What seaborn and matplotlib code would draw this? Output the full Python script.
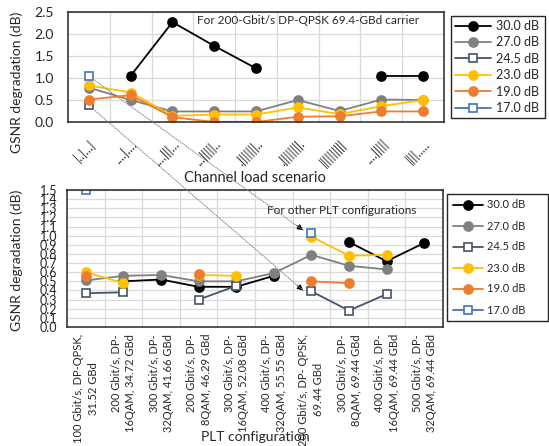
import numpy as np
import pandas as pd
import matplotlib
matplotlib.use("Agg")
import matplotlib.pyplot as plt
import seaborn as sns
from matplotlib.lines import Line2D
from matplotlib.patches import ConnectionPatch

nan = np.nan

# ---------------- data ----------------
series_labels = ["30.0 dB", "27.0 dB", "24.5 dB", "23.0 dB", "19.0 dB", "17.0 dB"]

top_scenarios = ["|..|...|", "....|....", "....|||...", "...|||||..", ".|||||||..",
                 ".||||||||.", "||||||||||", "....|||||", "||||....."]
top_30 = [nan, 1.05, 2.27, 1.73, 1.22, nan, nan, 1.05, 1.05]
top_27 = [0.78, 0.50, 0.24, 0.24, 0.24, 0.50, 0.25, 0.51, 0.50]
top_245 = [0.38, nan, nan, nan, nan, nan, nan, nan, nan]
top_23 = [0.83, 0.67, 0.14, 0.17, 0.17, 0.33, 0.18, 0.36, 0.50]
top_19 = [0.51, 0.61, 0.11, 0.00, 0.00, 0.12, 0.13, 0.24, 0.24]
top_17 = [1.04, nan, nan, nan, nan, nan, nan, nan, nan]

plt_configs = ["100 Gbit/s, DP-QPSK,\n31.52 GBd", "200 Gbit/s, DP-\n16QAM, 34.72 GBd",
               "300 Gbit/s, DP-\n32QAM, 41.66 GBd", "200 Gbit/s, DP-\n8QAM, 46.29 GBd",
               "300 Gbit/s, DP-\n16QAM, 52.08 GBd", "400 Gbit/s, DP-\n32QAM, 55.55 GBd",
               "200 Gbit/s, DP- QPSK,\n69.44 GBd", "300 Gbit/s, DP-\n8QAM, 69.44 GBd",
               "400 Gbit/s, DP-\n16QAM, 69.44 GBd", "500 Gbit/s, DP-\n32QAM, 69.44 GBd"]
bot_30 = [nan, 0.50, 0.52, 0.44, 0.44, 0.56, nan, 0.93, 0.72, 0.92]
bot_27 = [0.51, 0.56, 0.57, 0.50, 0.50, 0.59, 0.79, 0.67, 0.63, nan]
bot_245 = [0.37, 0.38, nan, 0.30, 0.45, nan, 0.39, 0.18, 0.36, nan]
bot_23 = [0.60, 0.48, nan, 0.57, 0.56, nan, 0.99, 0.78, 0.79, nan]
bot_19 = [0.56, nan, nan, 0.58, nan, nan, 0.50, 0.48, nan, nan]
bot_17 = [1.50, nan, nan, nan, nan, nan, 1.03, nan, nan, nan]

top_yticks = [0.0, 0.5, 1.0, 1.5, 2.0, 2.5]
bot_yticks = [round(0.1 * i, 1) for i in range(16)]

# ---------------- style ----------------
sns.set_theme(style="white")
plt.rcParams["font.family"] = ["Lato", "DejaVu Sans"]

colors = ["#000000", "#808080", "#44546A", "#FFC000", "#ED7D31", "#4472C4"]
markers = ["o", "o", "s", "o", "o", "s"]
grid_c = "#D9D9D9"

W, H = 549, 446
fig = plt.figure(figsize=(W / 100, H / 100), dpi=100)


def px_axes(l, t, r, b):
    return fig.add_axes([l / W, 1 - b / H, (r - l) / W, (b - t) / H])


ax1 = px_axes(68, 12, 444, 122)
ax2 = px_axes(67, 190, 443, 327)


def draw(ax, series):
    for vals, c, m in zip(series, colors, markers):
        arr = np.array(vals, float)
        x = np.arange(len(arr))
        ok = ~np.isnan(arr)
        seg = np.cumsum(~ok)
        df = pd.DataFrame({"x": x[ok], "y": arr[ok], "seg": seg[ok]})
        for _, d in df.groupby("seg"):
            sns.lineplot(data=d, x="x", y="y", ax=ax, color=c, marker=m,
                         markersize=6.5 if m == "o" else 6,
                         markerfacecolor="white" if m == "s" else c,
                         markeredgecolor=c, markeredgewidth=1.2,
                         linewidth=1.3, legend=False, estimator=None, sort=False)


def style_axes(ax, n, yticks, ylim):
    ax.set_xlim(-0.5, n - 0.5)
    ax.set_ylim(*ylim)
    ax.set_xticks(range(n))
    ax.set_xticks(np.arange(n - 1) + 0.5, minor=True)
    ax.set_yticks(yticks)
    ax.grid(True, which="minor", axis="x", color=grid_c, lw=0.9)
    ax.grid(True, which="major", axis="y", color=grid_c, lw=0.9)
    ax.grid(False, which="major", axis="x")
    ax.set_axisbelow(True)
    for s in ax.spines.values():
        s.set_visible(True)
        s.set_color("#262626")
        s.set_linewidth(1.1)
    ax.tick_params(which="both", length=0)
    ax.set_xlabel("")
    ax.set_ylabel("")


draw(ax1, [top_30, top_27, top_245, top_23, top_19, top_17])
style_axes(ax1, len(top_scenarios), top_yticks, (0, 2.5))
ax1.set_yticklabels([f"{v:.1f}" for v in top_yticks], fontsize=10)
ax1.tick_params(axis="y", pad=10)
ax1.set_xticklabels(top_scenarios, rotation=45, ha="right", rotation_mode="anchor",
                    fontsize=9)
ax1.tick_params(axis="x", pad=11)

draw(ax2, [bot_30, bot_27, bot_245, bot_23, bot_19, bot_17])
style_axes(ax2, len(plt_configs), bot_yticks, (0, 1.5))
ax2.set_yticklabels([f"{v:.1f}" for v in bot_yticks], fontsize=9)
ax2.tick_params(axis="y", pad=7)
ax2.set_xticklabels(plt_configs, rotation=90, ha="center", va="top", fontsize=8,
                    linespacing=1.45)
for i, t in enumerate(ax2.get_xticklabels()):
    t.set_multialignment("center" if i in (0, 6) else "right")
ax2.tick_params(axis="x", pad=5)

# axis titles
fig.text(17 / W, 1 - 82 / H, "GSNR degradation (dB)", rotation=90, ha="center",
         va="center", fontsize=10)
fig.text(17 / W, 1 - 260 / H, "GSNR degradation (dB)", rotation=90, ha="center",
         va="center", fontsize=10)
fig.text(255 / W, 1 - 178 / H, "Channel load scenario", ha="center", va="center",
         fontsize=10.5)
fig.text(255 / W, 1 - 437 / H, "PLT configuration", ha="center", va="center",
         fontsize=10)

# annotations
fig.text(197 / W, 1 - 21 / H, "For 200-Gbit/s DP-QPSK 69.4-GBd carrier", ha="left",
         va="center", fontsize=8.5)
fig.text(267 / W, 1 - 210 / H, "For other PLT configurations", ha="left",
         va="center", fontsize=8.5)

tips = [((0, top_17[0]), (5.78, 1.06), (-4.7, 3.4)),
        ((0, top_245[0]), (5.78, 0.40), (-4.4, 3.8))]
for start, tip, back in tips:
    con = ConnectionPatch(xyA=start, coordsA=ax1.transData, xyB=tip,
                          coordsB=ax2.transData, color="#808080", lw=0.7,
                          linestyle=(0, (1, 1.5)), shrinkA=4, shrinkB=0, zorder=5)
    fig.add_artist(con)
    ax2.annotate("", xy=tip, xycoords="data", xytext=back, textcoords="offset points",
                 arrowprops=dict(arrowstyle="-|>", color="black", lw=0.6,
                                 mutation_scale=9, shrinkA=0, shrinkB=0),
                 annotation_clip=False)

# legends
handles = [Line2D([], [], color=c, marker=m, markersize=6.5 if m == "o" else 6,
                  markerfacecolor="white" if m == "s" else c, markeredgecolor=c,
                  markeredgewidth=1.2, linewidth=1.3)
           for c, m in zip(colors, markers)]
leg1 = fig.legend(handles, series_labels, bbox_to_anchor=(451 / W, 1 - 122 / H, 94 / W, 110 / H),
                  loc="center", mode="expand", fancybox=False, edgecolor="#262626",
                  fontsize=9, handlelength=2.9, handletextpad=0.4, labelspacing=0.35,
                  borderpad=0.3, borderaxespad=0, framealpha=1)
leg1.get_frame().set_linewidth(1.0)
leg2 = fig.legend(handles, series_labels, bbox_to_anchor=(447 / W, 1 - 327 / H, 101 / W, 139 / H),
                  loc="center", mode="expand", fancybox=False, edgecolor="#262626",
                  fontsize=8, handlelength=2.7, handletextpad=0.4, labelspacing=0.9,
                  borderpad=0.5, borderaxespad=0, framealpha=1)
leg2.get_frame().set_linewidth(1.0)

fig.savefig("out.png", dpi=100)
